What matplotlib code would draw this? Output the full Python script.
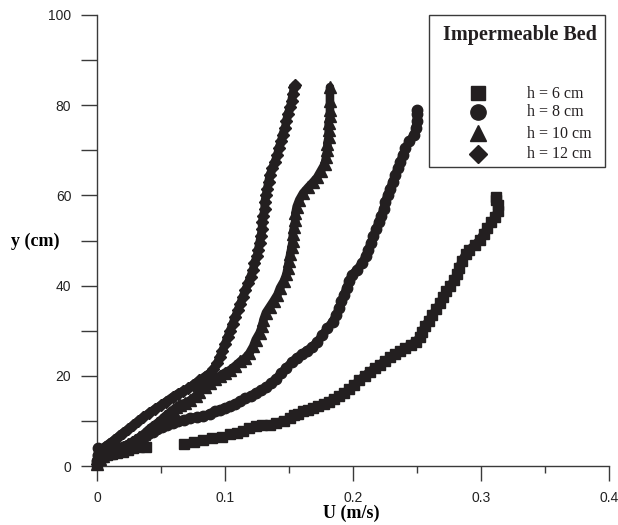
import matplotlib
matplotlib.use("Agg")
import matplotlib.pyplot as plt
from matplotlib.patches import Rectangle

# ---- data (U in m/s, y in cm) ----
u_h6 = [0.0, 0.001, 0.004, 0.008, 0.012, 0.016, 0.020, 0.024, 0.028, 0.033, 0.038,
        0.068, 0.076, 0.083, 0.090, 0.098, 0.104, 0.109, 0.114, 0.119, 0.124, 0.129, 0.135,
        0.140, 0.146, 0.151, 0.154, 0.157, 0.161, 0.165, 0.169, 0.173, 0.177, 0.181, 0.185,
        0.189, 0.193, 0.197, 0.201, 0.205, 0.209, 0.213, 0.217, 0.221, 0.225, 0.229, 0.233,
        0.237, 0.241, 0.245, 0.249, 0.252, 0.254, 0.256, 0.259, 0.262, 0.265, 0.268, 0.270,
        0.273, 0.276, 0.279, 0.281, 0.283, 0.285, 0.288, 0.291, 0.295, 0.299, 0.302, 0.305,
        0.308, 0.311, 0.313, 0.313, 0.312, 0.312]
y_h6 = [0.5, 1.5, 2.0, 2.4, 2.7, 2.9, 3.1, 3.5, 3.9, 4.2, 4.3,
        4.9, 5.3, 5.8, 6.1, 6.4, 7.0, 7.3, 7.8, 8.4, 8.8, 9.0, 9.2,
        9.6, 10.0, 10.6, 11.2, 11.6, 12.1, 12.5, 12.9, 13.3, 13.8, 14.3, 14.9,
        15.5, 16.2, 17.0, 18.0, 19.0, 20.0, 20.9, 21.7, 22.5, 23.3, 24.1, 24.8,
        25.5, 26.2, 26.9, 27.6, 28.5, 29.8, 31.0, 32.2, 33.5, 34.8, 36.1, 37.4,
        38.7, 40.0, 41.2, 42.5, 44.0, 45.5, 47.0, 48.0, 49.0, 50.1, 51.5, 52.8,
        54.0, 55.3, 56.5, 57.8, 59.0, 59.6]

u_h8 = [0.0, 0.001, 0.001, 0.005, 0.009, 0.013, 0.017, 0.020, 0.024, 0.027, 0.030,
        0.033, 0.037, 0.040, 0.044, 0.047, 0.051, 0.055, 0.059, 0.063, 0.068, 0.073,
        0.078, 0.083, 0.088, 0.092, 0.096, 0.100, 0.104, 0.108, 0.112, 0.116, 0.120,
        0.124, 0.128, 0.132, 0.136, 0.140, 0.144, 0.148, 0.152, 0.156, 0.160, 0.164,
        0.168, 0.172, 0.176, 0.180, 0.184, 0.187, 0.189, 0.191, 0.193, 0.195, 0.197,
        0.199, 0.203, 0.207, 0.210, 0.212, 0.214, 0.216, 0.218, 0.220, 0.222, 0.224,
        0.225, 0.227, 0.229, 0.231, 0.233, 0.235, 0.237, 0.239, 0.241, 0.244, 0.248,
        0.249, 0.250, 0.250, 0.250]
y_h8 = [1.0, 2.5, 4.0, 3.8, 3.7, 3.8, 4.0, 4.2, 4.7, 5.1, 5.5,
        5.9, 6.5, 7.0, 7.6, 8.1, 8.6, 9.1, 9.6, 10.0, 10.3, 10.6,
        10.8, 11.0, 11.6, 12.1, 12.5, 12.9, 13.2, 13.8, 14.4, 15.0, 15.5,
        16.2, 16.8, 17.5, 18.4, 19.4, 20.6, 21.8, 23.0, 24.0, 24.8, 25.6,
        26.4, 27.5, 29.0, 30.5, 32.0, 33.5, 35.0, 36.5, 38.0, 39.5, 41.0,
        42.3, 43.5, 45.0, 46.5, 48.0, 49.5, 51.0, 52.5, 54.0, 55.5, 57.0,
        58.5, 60.0, 61.5, 63.0, 64.5, 66.0, 67.5, 69.0, 70.5, 72.0, 73.5,
        75.0, 76.5, 78.0, 79.0]

u_h10 = [0.0, 0.002, 0.005, 0.009, 0.012, 0.016, 0.020, 0.024, 0.027, 0.030, 0.033,
         0.037, 0.040, 0.043, 0.047, 0.050, 0.053, 0.056, 0.059, 0.062, 0.065, 0.069,
         0.073, 0.077, 0.080, 0.084, 0.088, 0.092, 0.096, 0.100, 0.104, 0.108, 0.112,
         0.116, 0.119, 0.122, 0.124, 0.127, 0.129, 0.130, 0.132, 0.135, 0.138, 0.141,
         0.143, 0.146, 0.148, 0.149, 0.150, 0.151, 0.152, 0.153, 0.153, 0.154, 0.155,
         0.155, 0.156, 0.158, 0.161, 0.165, 0.169, 0.172, 0.175, 0.178, 0.179, 0.180,
         0.180, 0.181, 0.181, 0.181, 0.182, 0.182, 0.182, 0.182]
y_h10 = [0.5, 1.5, 2.2, 2.8, 3.3, 3.8, 4.2, 4.8, 5.3, 5.8, 6.4,
         7.2, 8.0, 8.7, 9.5, 10.2, 11.0, 11.7, 12.4, 13.0, 13.6, 14.0,
         14.6, 15.5, 16.5, 17.6, 18.5, 19.3, 20.0, 20.7, 21.3, 22.2, 23.2,
         24.0, 25.0, 26.5, 28.0, 29.5, 31.0, 32.4, 34.0, 35.3, 36.6, 38.0,
         39.5, 41.0, 42.5, 44.0, 45.5, 47.0, 48.5, 50.0, 51.5, 53.0, 54.5,
         56.0, 57.5, 59.0, 60.5, 61.8, 63.0, 64.0, 65.5, 67.0, 68.5, 70.0,
         71.5, 73.0, 74.5, 76.0, 77.5, 79.0, 81.0, 84.0]

u_h12 = [0.0, 0.001, 0.002, 0.004, 0.006, 0.009, 0.013, 0.017, 0.020, 0.024, 0.028,
         0.032, 0.036, 0.041, 0.045, 0.050, 0.054, 0.059, 0.063, 0.067, 0.071, 0.075,
         0.080, 0.084, 0.088, 0.091, 0.094, 0.096, 0.098, 0.100, 0.102, 0.104, 0.106,
         0.108, 0.110, 0.112, 0.114, 0.116, 0.118, 0.120, 0.122, 0.123, 0.125, 0.126,
         0.127, 0.128, 0.129, 0.129, 0.130, 0.131, 0.131, 0.132, 0.133, 0.134, 0.135,
         0.137, 0.139, 0.141, 0.142, 0.144, 0.145, 0.147, 0.148, 0.149, 0.151, 0.152,
         0.153, 0.154, 0.155]
y_h12 = [0.5, 1.5, 2.5, 3.5, 4.3, 4.9, 5.7, 6.6, 7.3, 8.1, 9.0,
         9.9, 10.8, 11.8, 12.6, 13.5, 14.3, 15.3, 16.0, 16.6, 17.2, 18.0,
         19.0, 19.8, 20.6, 21.5, 22.8, 24.2, 25.5, 27.0, 28.5, 30.0, 31.5,
         33.0, 34.5, 36.0, 37.5, 39.0, 40.5, 42.0, 43.5, 45.0, 46.5, 48.0,
         49.5, 51.0, 52.5, 54.0, 55.5, 57.0, 58.5, 60.0, 61.5, 63.0, 64.5,
         66.0, 67.5, 69.0, 70.5, 72.0, 73.5, 75.0, 76.5, 78.0, 79.5, 81.0,
         82.5, 84.0, 84.5]

labels = ["h = 6 cm", "h = 8 cm", "h = 10 cm", "h = 12 cm"]
markers = ["s", "o", "^", "D"]
xticks = [0, 0.1, 0.2, 0.3, 0.4]
xtick_labels = ["0", "0.1", "0.2", "0.3", "0.4"]
yticks = [0, 20, 40, 60, 80, 100]
ytick_labels = ["0", "20", "40", "60", "80", "100"]

ink = "#231f20"
axis_col = "#3a3a3a"

fig = plt.figure(figsize=(6.18, 5.25), dpi=100)
ax = fig.add_axes([97/618, 59/525, 512/618, 451/525])

series = [(u_h6, y_h6), (u_h8, y_h8), (u_h10, y_h10), (u_h12, y_h12)]
sizes = [7, 7.5, 8, 6.5]
# index from which the measured points are so dense that they merge into a band
band_start = [23, 0, 0, 0]
for (u, y), m, s, b in zip(series, markers, sizes, band_start):
    ax.plot(u, y, linestyle="none", marker=m, markersize=s, color=ink,
            markeredgecolor=ink, clip_on=False, zorder=3)
    ax.plot(u[b:], y[b:], linestyle="-", linewidth=6.2, color=ink,
            solid_capstyle="round", solid_joinstyle="round", clip_on=False, zorder=3)

ax.set_xlim(0, 0.4)
ax.set_ylim(0, 100)
ax.set_xticks(xticks)
ax.set_xticklabels(xtick_labels)
ax.set_xticks([0.05, 0.15, 0.25, 0.35], minor=True)
ax.set_yticks(yticks)
ax.set_yticklabels(ytick_labels)
ax.set_yticks([10, 30, 50, 70, 90], minor=True)

for sp in ["top", "right"]:
    ax.spines[sp].set_visible(False)
for sp in ["left", "bottom"]:
    ax.spines[sp].set_color(axis_col)
    ax.spines[sp].set_linewidth(1.0)

ax.tick_params(axis="both", which="both", direction="out", color=axis_col, width=1.0)
ax.tick_params(axis="x", which="major", length=11, pad=7)
ax.tick_params(axis="x", which="minor", length=5)
ax.tick_params(axis="y", which="both", length=11.5, pad=7)
for lab in ax.get_xticklabels() + ax.get_yticklabels():
    lab.set_family("Liberation Sans")
    lab.set_fontsize(10)
    lab.set_color("#222222")

ax.set_xlabel("U (m/s)", family="Liberation Serif", fontweight="bold", fontsize=13)
ax.xaxis.set_label_coords((351 - 97) / 512, (466 - 513) / 451)
ax.xaxis.label.set_va("center")
ax.set_ylabel("y (cm)", family="Liberation Serif", fontweight="bold", fontsize=13,
              rotation=0)
ax.yaxis.set_label_coords((35 - 97) / 512, (466 - 241) / 451)
ax.yaxis.label.set_va("center")
ax.yaxis.label.set_ha("center")

# legend box drawn by hand to match the reference layout
box = Rectangle((0.648, 0.663), 0.992 - 0.648, 1.0 - 0.663, transform=ax.transAxes,
                fill=True, facecolor="white", edgecolor=axis_col, linewidth=1.0,
                clip_on=False, zorder=4)
ax.add_patch(box)
ax.text(0.826, (466 - 40) / 451, "Impermeable Bed", transform=ax.transAxes,
        ha="center", va="baseline", family="Liberation Serif", fontweight="bold",
        fontsize=14.5, color=ink, zorder=5)
rows_px = [93, 112, 133, 154]
leg_sizes = [10.5, 11, 12, 9.5]
for lab, m, s, rp in zip(labels, markers, leg_sizes, rows_px):
    yy = (466 - rp) / 451
    ax.plot([0.744], [yy], transform=ax.transAxes, marker=m, markersize=s,
            color=ink, linestyle="none", clip_on=False, zorder=5)
    ax.text(0.840, (466 - rp - 4.5) / 451, lab, transform=ax.transAxes, ha="left",
            va="baseline", family="Liberation Serif", fontsize=11.5, color=ink, zorder=5)

fig.savefig("out.png", dpi=100)
